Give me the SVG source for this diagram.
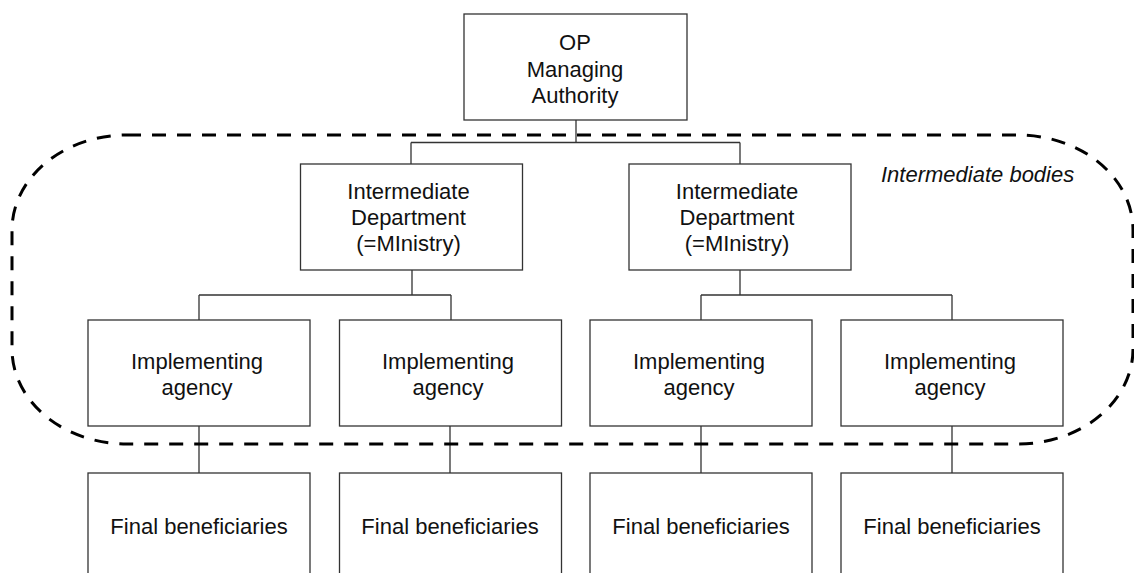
<svg xmlns="http://www.w3.org/2000/svg" width="1134" height="573" viewBox="0 0 1134 573">
<style>
.box{fill:#fff;stroke:#333;stroke-width:1.3}
.ln{fill:none;stroke:#333;stroke-width:1.3}
.dash{fill:none;stroke:#000;stroke-width:3;stroke-dasharray:14 11}
text{font-family:"Liberation Sans",Arial,sans-serif;font-size:22px;fill:#111;text-anchor:middle}
.it{font-style:italic;text-anchor:start}
</style>
<rect width="1134" height="573" fill="#fff"/>
<g id="connectors">
<path class="ln" d="M576 120V142.5M411 142.5H740M411 142.5V164M740 142.5V164"/>
<path class="ln" d="M412 270V295M199 295H451M199 295V320M451 295V320"/>
<path class="ln" d="M740 270V295M701 295H952M701 295V320M952 295V320"/>
<path class="ln" d="M199 426V473M450 426V473M701 426V473M952 426V473"/>
</g>
<g id="intermediate-bodies">
<rect class="dash" x="12" y="135" width="1121" height="309" rx="115" ry="95"/>
<text class="it" x="881" y="182">Intermediate bodies</text>
</g>
<g id="managing-authority">
<rect class="box" x="464" y="14" width="223" height="106"/>
<text x="575" y="50">OP</text>
<text x="575" y="76.5">Managing</text>
<text x="575" y="103">Authority</text>
</g>
<g id="dept-1">
<rect class="box" x="300.5" y="164" width="222" height="106"/>
<text x="408.5" y="199">Intermediate</text>
<text x="408.5" y="225">Department</text>
<text x="408.5" y="251">(=MInistry)</text>
</g>
<g id="dept-2">
<rect class="box" x="629" y="164" width="222" height="106"/>
<text x="737" y="199">Intermediate</text>
<text x="737" y="225">Department</text>
<text x="737" y="251">(=MInistry)</text>
</g>
<g id="agency-1">
<rect class="box" x="88" y="320" width="222" height="106"/>
<text x="197" y="369">Implementing</text>
<text x="197" y="395">agency</text>
</g>
<g id="agency-2">
<rect class="box" x="339.5" y="320" width="222" height="106"/>
<text x="448" y="369">Implementing</text>
<text x="448" y="395">agency</text>
</g>
<g id="agency-3">
<rect class="box" x="590" y="320" width="222" height="106"/>
<text x="699" y="369">Implementing</text>
<text x="699" y="395">agency</text>
</g>
<g id="agency-4">
<rect class="box" x="841" y="320" width="222" height="106"/>
<text x="950" y="369">Implementing</text>
<text x="950" y="395">agency</text>
</g>
<g id="beneficiaries-1">
<rect class="box" x="88" y="473" width="222" height="120"/>
<text x="199" y="534">Final beneficiaries</text>
</g>
<g id="beneficiaries-2">
<rect class="box" x="339.5" y="473" width="222" height="120"/>
<text x="450" y="534">Final beneficiaries</text>
</g>
<g id="beneficiaries-3">
<rect class="box" x="590" y="473" width="222" height="120"/>
<text x="701" y="534">Final beneficiaries</text>
</g>
<g id="beneficiaries-4">
<rect class="box" x="841" y="473" width="222" height="120"/>
<text x="952" y="534">Final beneficiaries</text>
</g>
</svg>
